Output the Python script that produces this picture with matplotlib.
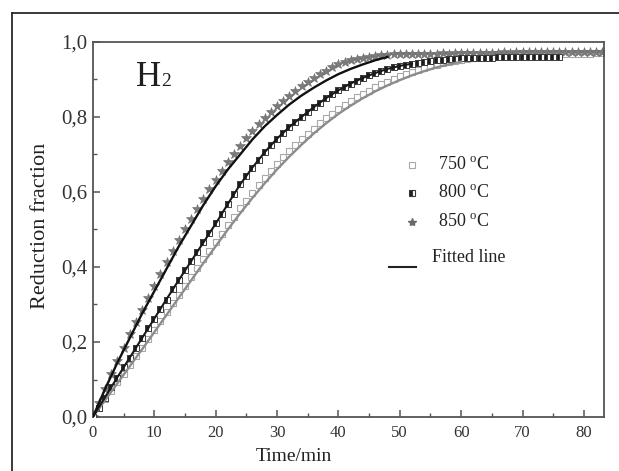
import numpy as np
import matplotlib
matplotlib.use("Agg")
import matplotlib.pyplot as plt
from matplotlib.lines import Line2D
from matplotlib.ticker import MultipleLocator, FuncFormatter

plt.rcParams['font.family'] = ['Liberation Serif', 'DejaVu Serif']
plt.rcParams['mathtext.fontset'] = 'custom'
plt.rcParams['mathtext.rm'] = 'Liberation Serif'

#######################################
# data
#######################################
t_850 = np.arange(0, 84)  # minutes
frac_850 = [0.0, 0.038, 0.076, 0.114, 0.15, 0.185, 0.22, 0.253, 0.286, 0.318,
            0.35, 0.381, 0.412, 0.442, 0.471, 0.5, 0.528, 0.555, 0.582, 0.608,
            0.633, 0.657, 0.68, 0.702, 0.723, 0.743, 0.762, 0.78, 0.797, 0.813,
            0.828, 0.843, 0.857, 0.87, 0.882, 0.893, 0.904, 0.914, 0.923, 0.932,
            0.94, 0.946, 0.951, 0.955, 0.958, 0.961, 0.963, 0.965, 0.966, 0.967,
            0.967, 0.968, 0.968, 0.969, 0.968, 0.969, 0.969, 0.97, 0.969, 0.97,
            0.97, 0.97, 0.971, 0.97, 0.971, 0.971, 0.971, 0.972, 0.971, 0.972,
            0.972, 0.972, 0.972, 0.973, 0.972, 0.973, 0.973, 0.973, 0.973, 0.974,
            0.973, 0.974, 0.974, 0.974]

t_800 = np.arange(0, 77)
frac_800 = [0.0, 0.025, 0.052, 0.08, 0.105, 0.133, 0.157, 0.185, 0.21, 0.237,
            0.262, 0.289, 0.313, 0.34, 0.365, 0.391, 0.415, 0.441, 0.466, 0.491,
            0.516, 0.542, 0.568, 0.594, 0.62, 0.643, 0.665, 0.686, 0.706, 0.725,
            0.742, 0.758, 0.773, 0.787, 0.80, 0.814, 0.826, 0.838, 0.85, 0.861,
            0.871, 0.88, 0.889, 0.897, 0.904, 0.911, 0.917, 0.923, 0.928, 0.932,
            0.936, 0.939, 0.942, 0.945, 0.947, 0.949, 0.951, 0.953, 0.954, 0.955,
            0.956, 0.957, 0.957, 0.958, 0.958, 0.958, 0.959, 0.959, 0.959, 0.96,
            0.96, 0.96, 0.96, 0.96, 0.961, 0.961, 0.961]

t_750 = np.arange(0, 84)
frac_750 = [0.0, 0.024, 0.047, 0.07, 0.093, 0.116, 0.139, 0.162, 0.185, 0.209,
            0.232, 0.256, 0.279, 0.303, 0.326, 0.35, 0.373, 0.397, 0.42, 0.443,
            0.466, 0.489, 0.512, 0.534, 0.556, 0.577, 0.598, 0.618, 0.638, 0.657,
            0.675, 0.692, 0.709, 0.725, 0.74, 0.755, 0.769, 0.783, 0.796, 0.808,
            0.82, 0.831, 0.842, 0.852, 0.861, 0.87, 0.879, 0.887, 0.894, 0.901,
            0.908, 0.914, 0.92, 0.925, 0.93, 0.935, 0.939, 0.943, 0.947, 0.95,
            0.953, 0.955, 0.957, 0.959, 0.96, 0.961, 0.962, 0.963, 0.964, 0.964,
            0.965, 0.965, 0.966, 0.966, 0.967, 0.967, 0.968, 0.968, 0.968, 0.969,
            0.969, 0.969, 0.97, 0.97]

# fitted lines
fit_t_850 = np.arange(0, 49, 2)
fit_850 = [0.0, 0.075, 0.145, 0.21, 0.275, 0.335, 0.395, 0.455, 0.51, 0.565,
           0.615, 0.66, 0.70, 0.74, 0.775, 0.805, 0.833, 0.857, 0.878, 0.897,
           0.914, 0.928, 0.94, 0.951, 0.96]
fit_t_800 = np.arange(0, 53, 2)
fit_800 = [0.0, 0.053, 0.106, 0.158, 0.21, 0.262, 0.314, 0.365, 0.415, 0.465,
           0.515, 0.568, 0.62, 0.665, 0.706, 0.742, 0.773, 0.80, 0.826, 0.85,
           0.871, 0.889, 0.904, 0.917, 0.928, 0.936, 0.942]
fit_t_750 = np.arange(0, 61, 2)
fit_750 = [0.0, 0.045, 0.09, 0.135, 0.18, 0.226, 0.272, 0.318, 0.364, 0.41,
           0.455, 0.5, 0.543, 0.584, 0.623, 0.66, 0.694, 0.726, 0.756, 0.783,
           0.808, 0.83, 0.85, 0.868, 0.884, 0.898, 0.911, 0.922, 0.932, 0.94,
           0.947]

legend_labels = ["750 $^{\\rm o}$C", "800 $^{\\rm o}$C", "850 $^{\\rm o}$C"]

#######################################
# figure
#######################################
fig = plt.figure(figsize=(6.19, 4.71), dpi=100, facecolor='white')
ax = fig.add_axes([0.150, 0.1146, 0.826, 0.7965])

# outer frame (left + top only, rest is cropped)
fig.add_artist(Line2D([12/619, 12/619], [0, 1-13/471], transform=fig.transFigure, color='#2a2a2a', lw=1.3))
fig.add_artist(Line2D([12/619, 1], [1-13/471, 1-13/471], transform=fig.transFigure, color='#2a2a2a', lw=1.3))

# data points
ax.plot(t_750, frac_750, ls='', marker='s', ms=4.2, mfc='white', mec='#a8a8a8', mew=0.8, zorder=2)
ax.plot(t_800, frac_800, ls='', marker='s', ms=4.0, fillstyle='left', color='#1e1e1e', mfc='#1e1e1e',
        mfcalt='white', mec='#3a3a3a', mew=0.7, zorder=3)
ax.plot(t_850, frac_850, ls='', marker='*', ms=7, color='#7a7a7a', mec='#6a6a6a', mew=0.4, zorder=2)

# fitted lines
ax.plot(fit_t_750, fit_750, color='#8c8c8c', lw=1.7, zorder=4)
ax.plot(fit_t_800, fit_800, color='#1a1a1a', lw=1.5, zorder=4)
ax.plot(fit_t_850, fit_850, color='#111111', lw=1.7, zorder=4)

ax.set_xlim(0, 83.3)
ax.set_ylim(0, 1.0)
ax.xaxis.set_major_locator(MultipleLocator(10))
ax.xaxis.set_minor_locator(MultipleLocator(5))
ax.yaxis.set_major_locator(MultipleLocator(0.2))
ax.yaxis.set_minor_locator(MultipleLocator(0.1))
ax.yaxis.set_major_formatter(FuncFormatter(lambda v, p: f"{v:.1f}".replace('.', ',')))

for sp in ax.spines.values():
    sp.set_color('#555555')
    sp.set_linewidth(1.3)
ax.tick_params(which='both', direction='in', color='#555555', top=False, right=False)
ax.tick_params(which='major', length=5, width=1.1)
ax.tick_params(which='minor', length=3, width=1.0)
ax.tick_params(axis='x', labelsize=12, labelcolor='#333333', pad=6)
ax.tick_params(axis='y', labelsize=15, labelcolor='#333333', pad=4)

ax.set_xlabel("Time/min", fontsize=14, color='#222222')
ax.xaxis.set_label_coords(0.394, -0.083)
ax.set_ylabel("Reduction fraction", fontsize=16, color='#222222')
ax.yaxis.set_label_coords(-0.083, 0.51)

# H2 label
ax.text(0.085, 0.883, "H", transform=ax.transAxes, fontsize=25, color='#1e1e1e', va='baseline', ha='left')
ax.text(0.134, 0.883, "2", transform=ax.transAxes, fontsize=14, color='#1e1e1e', va='baseline', ha='left')

# legend drawn by hand
leg_y = [0.672, 0.597, 0.52]
ax.plot([0.624], [leg_y[0]], transform=ax.transAxes, ls='', marker='s', ms=4.2, mfc='white', mec='#a8a8a8', mew=0.8)
ax.plot([0.624], [leg_y[1]], transform=ax.transAxes, ls='', marker='s', ms=4.2, fillstyle='left',
        mfc='#1e1e1e', mfcalt='white', mec='#3a3a3a', mew=0.8)
ax.plot([0.624], [leg_y[2]], transform=ax.transAxes, ls='', marker='*', ms=6, color='#6a6a6a')
for yy, lab in zip(leg_y, legend_labels):
    ax.text(0.675, yy, lab, transform=ax.transAxes, fontsize=13, color='#222222', va='center', ha='left')
ax.plot([0.58, 0.632], [0.40, 0.40], transform=ax.transAxes, color='#222222', lw=1.5)
ax.text(0.664, 0.425, "Fitted line", transform=ax.transAxes, fontsize=13, color='#222222', va='center', ha='left')

fig.savefig("out.png", dpi=100, facecolor='white')
